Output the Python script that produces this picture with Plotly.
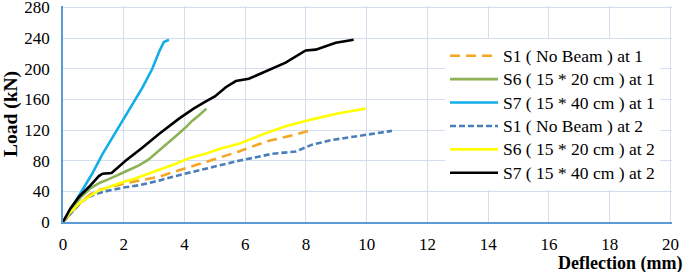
import plotly.graph_objects as go

# ---- data (deflection mm, load kN) ----
s1_at1_x = [0, 0.3, 0.6, 0.9, 1.2, 1.51, 2.0, 2.5, 3.16, 3.7, 4.2, 4.7, 5.2, 5.79, 6.12, 6.78, 7.53, 8.09]
s1_at1_y = [0, 13, 26, 36, 42, 45, 50, 54, 59, 66, 72, 78, 85, 92, 97, 106, 113, 119]

s6_at1_x = [0, 0.3, 0.6, 0.9, 1.2, 1.51, 2.06, 2.5, 2.8, 3.16, 3.5, 3.71, 4.0, 4.25, 4.5, 4.72]
s6_at1_y = [0, 18, 33, 44, 51, 56, 66, 74, 81, 93, 104, 112, 122, 132, 140, 148]

s7_at1_x = [0, 0.31, 0.63, 0.96, 1.29, 1.62, 1.95, 2.28, 2.61, 2.94, 3.16, 3.32, 3.49]
s7_at1_y = [0, 20, 41, 63, 88, 110, 132, 154, 175, 200, 222, 235, 238]

s1_at2_x = [0, 0.3, 0.6, 0.86, 1.2, 1.51, 2.0, 2.5, 3.16, 3.7, 4.3, 4.8, 5.3, 5.79, 6.3, 6.88, 7.66, 8.2, 8.85, 9.74, 10.83]
s1_at2_y = [0, 13, 26, 33, 38, 41, 45, 48, 54, 60, 66, 70, 75, 80, 84, 89, 92, 101, 107, 112, 119]

s6_at2_x = [0, 0.2, 0.53, 0.85, 1.18, 1.51, 1.95, 2.4, 2.83, 3.3, 3.71, 4.2, 4.69, 5.2, 5.79, 6.3, 6.67, 7.33, 8.2, 9.08, 9.96]
s6_at2_y = [0, 11, 24, 33, 41, 46, 52, 57, 63, 70, 76, 84, 89, 96, 102, 110, 116, 125, 134, 142, 148]

s7_at2_x = [0, 0.25, 0.53, 0.86, 1.18, 1.3, 1.6, 2.06, 2.61, 3.16, 3.82, 4.3, 4.69, 5.0, 5.36, 5.69, 6.12, 6.67, 7.33, 7.99, 8.32, 8.98, 9.57]
s7_at2_y = [0, 18, 33, 46, 60, 63, 64, 80, 97, 115, 135, 148, 157, 164, 176, 184, 187, 197, 208, 224, 225, 234, 238]

names = ["S1 ( No Beam ) at 1", "S6 ( 15 * 20 cm ) at 1", "S7 ( 15 * 40 cm ) at 1",
         "S1 ( No Beam ) at 2", "S6 ( 15 * 20 cm ) at 2", "S7 ( 15 * 40 cm ) at 2"]
x_ticks = list(range(0, 21, 2))
y_ticks = list(range(0, 281, 40))

series = [
    (s1_at1_x, s1_at1_y, "#F5A623", "10px,6px"),
    (s6_at1_x, s6_at1_y, "#8DB255", "solid"),
    (s7_at1_x, s7_at1_y, "#13AEE8", "solid"),
    (s1_at2_x, s1_at2_y, "#4A7EBB", "6px,3px"),
    (s6_at2_x, s6_at2_y, "#FFFF00", "solid"),
    (s7_at2_x, s7_at2_y, "#000000", "solid"),
]

fig = go.Figure()
for (xs, ys, col, dash), nm in zip(series, names):
    fig.add_trace(go.Scatter(x=xs, y=ys, mode="lines",
                             name='<span style="font-size:17.5px">' + nm + '</span>',
                             line=dict(color=col, width=2.6, dash=dash)))

font_family = "Liberation Serif, Times New Roman, serif"
tick_font = dict(size=17, family=font_family, color="black")
fig.update_layout(
    template="none",
    width=685, height=272,
    margin=dict(l=63, r=13, t=6, b=50),
    paper_bgcolor="white", plot_bgcolor="white",
    font=dict(family=font_family, color="black", size=17),
    showlegend=True,
    legend=dict(x=(445 - 63) / 609, y=(222 - 39) / 216, xanchor="left", yanchor="top",
                bgcolor="white", font=dict(size=15.7, family=font_family, color="black"),
                itemwidth=48, tracegroupgap=0, borderwidth=0),
    xaxis=dict(range=[0, 20.05], tickvals=x_ticks, showgrid=True, gridcolor="#D5DEEE",
               gridwidth=1, showline=True, linecolor="#5B9BD5", linewidth=1.5,
               zeroline=False, ticks="", tickfont=tick_font, automargin=False,
               ticklabelstandoff=6, ticklabeloverflow="allow"),
    yaxis=dict(range=[0, 282], tickvals=y_ticks, showgrid=True, gridcolor="#D5DEEE",
               gridwidth=1, showline=True, linecolor="#5B9BD5", linewidth=1.5,
               zeroline=False, ticks="", tickfont=tick_font, automargin=False,
               ticklabelstandoff=8, ticklabeloverflow="allow",
               title=dict(text="<b>Load (kN)</b>", font=dict(size=19.5, family=font_family, color="black"),
                          standoff=5)),
    annotations=[dict(text="<b>Deflection (mm)</b>", xref="paper", yref="paper",
                      x=1, y=0, xanchor="right", yanchor="top", xshift=12, yshift=-29,
                      showarrow=False, font=dict(size=18, family=font_family, color="black"))],
)

fig.write_html("out.html", config={"displayModeBar": False},
               post_script="document.body.style.margin='0';document.body.style.overflow='hidden';")
